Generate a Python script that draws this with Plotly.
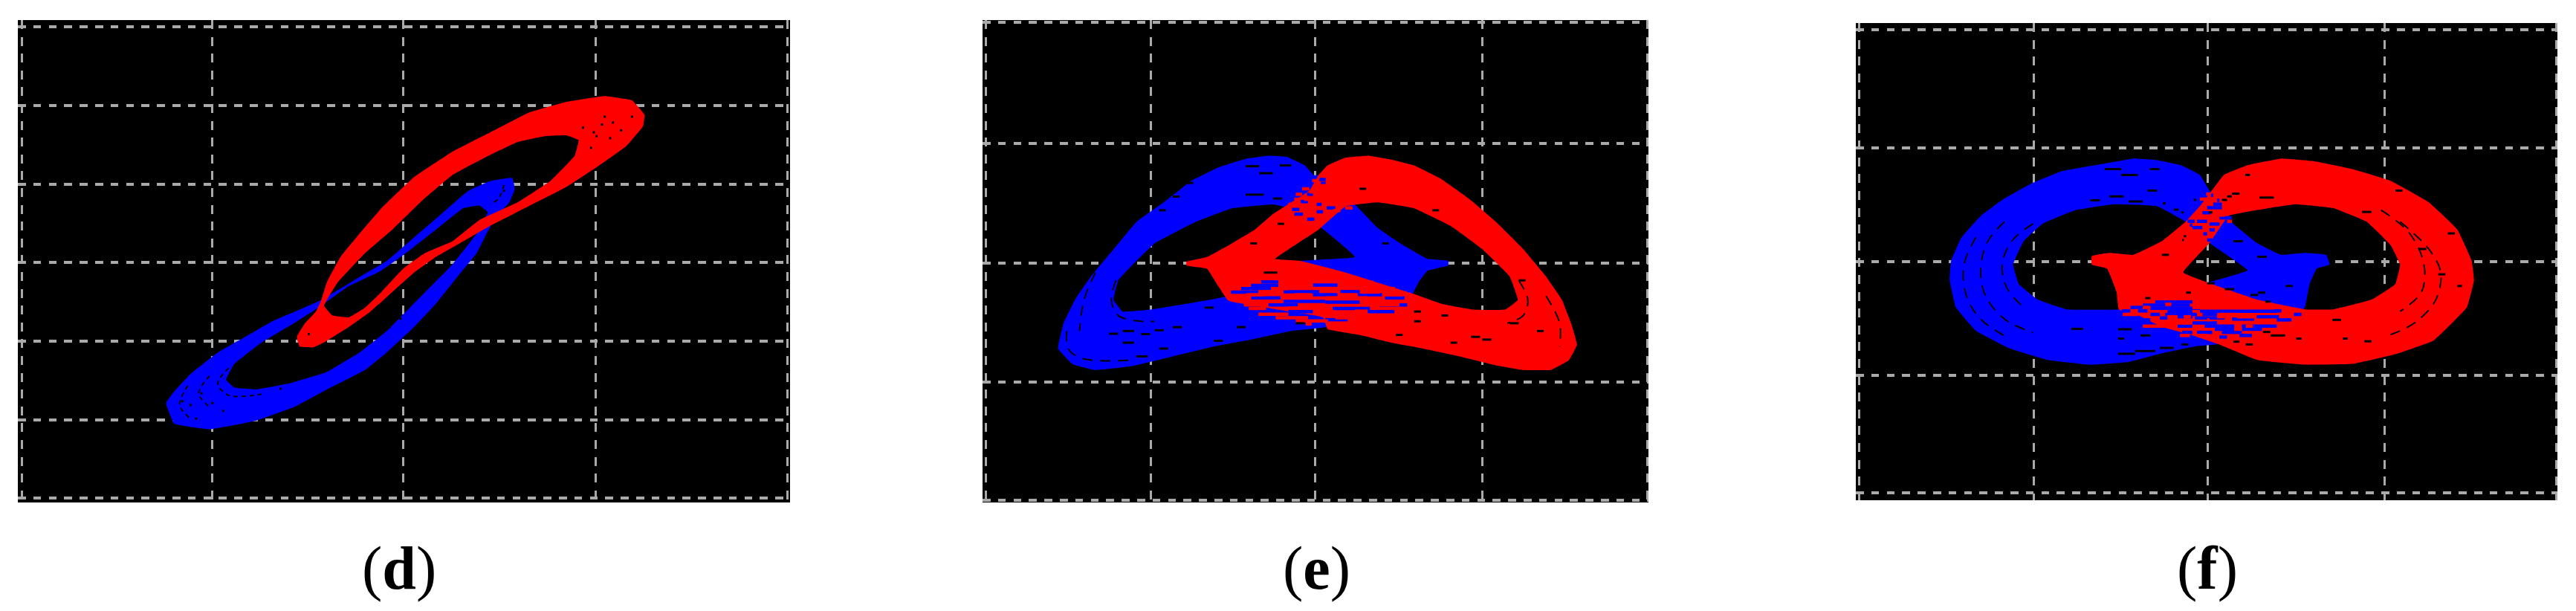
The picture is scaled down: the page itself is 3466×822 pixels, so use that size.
import plotly.graph_objects as go

W, H = 3466, 822
# Scope units: no numeric scale is printed in the reference, so each panel uses its own arbitrary scope units.
D_XRANGE = [33, 1450]; D_YRANGE = [1290, 52]
E_XRANGE = [52, 1515]; E_YRANGE = [1290, 52]
F_XRANGE = [58, 1530]; F_YRANGE = [1285, 60]
D_XGRID = [40, 390, 740, 1094, 1445]; D_YGRID = [70, 271, 473, 674, 876, 1078, 1279]
E_XGRID = [60, 422, 783, 1150, 1512]; E_YGRID = [57, 369, 675, 981, 1285]
F_XGRID = [65, 431, 796, 1167, 1527]; F_YGRID = [78, 380, 672, 964, 1265]
LABELS = ["(<b>d</b>)", "(<b>e</b>)", "(<b>f</b>)"]

D_BLUE_OUT = [(305,1035),(320,1005),(350,960),(400,905),(450,865),(500,825),(550,795),(590,770),(650,720),(710,670),(760,610),(810,550),(860,490),(900,465),(940,457),(945,485),(935,520),(915,550),(897,590),(875,650),(840,710),(800,780),(760,840),(710,905),(670,950),(600,1000),(540,1045),(470,1080),(385,1102),(320,1088)]
D_BLUE_IN = [(590,785),(540,830),(480,880),(430,935),(415,975),(430,995),(470,1000),(530,985),(600,955),(660,905),(710,850),(770,765),(830,680),(875,600),(895,545),(880,528),(850,535),(800,590),(750,645),(700,695),(640,735)]
D_RED_OUT = [(545,865),(560,830),(580,800),(590,770),(600,725),(625,660),(660,600),(700,535),(760,455),(830,390),(900,340),(970,290),(1040,262),(1110,247),(1160,258),(1183,295),(1180,325),(1150,375),(1100,425),(1040,480),(970,530),(900,580),(850,620),(800,660),(760,700),(720,750),(680,800),(640,840),(600,875),(575,892),(550,890)]
D_RED_IN = [(595,785),(610,810),(640,815),(670,790),(700,750),(740,690),(780,650),(830,620),(880,565),(950,520),(1010,465),(1055,400),(1062,360),(1040,348),(1000,350),(950,365),(890,405),(830,450),(775,515),(720,590),(670,650),(620,725)]
D_ARCS = [[(420,945),(400,985),(420,1015),(480,1012)], [(385,965),(365,1010),(385,1045)], [(345,990),(330,1040),(350,1075)], [(925,475),(915,510),(900,525)]]
D_SPECKS = [(1110,300),(1125,315),(1105,320),(1070,328),(1090,340),(1120,355),(1140,335),(1160,300),(1085,380),(1095,350),(567,858),(735,818),(715,840),(350,1040),(335,1030),(370,1010),(410,1055),(390,1035),(515,998),(360,1075),(925,490)]

E_BLUE_OUT = [(780,450),(760,425),(720,403),(680,400),(630,408),(570,430),(510,465),(450,520),(390,570),(340,640),(290,710),(255,770),(230,830),(218,895),(250,935),(300,950),(380,940),(470,915),(560,890),(650,870),(730,850),(810,840),(900,825),(950,800),(990,770),(1010,725),(1030,695),(1075,682),(1075,670),(1030,665),(970,625),(920,585),(870,525),(830,480),(800,450)]
E_BLUE_IN = [(430,625),(520,570),(600,535),(690,525),(730,535),(780,570),(870,660),(750,670),(620,720),(590,760),(500,780),(420,795),(360,800),(340,770),(350,720),(390,670)]
E_RED_OUT = [(790,450),(810,425),(850,405),(900,400),(950,410),(1000,425),(1060,460),(1120,510),(1180,570),(1240,640),(1290,710),(1325,770),(1345,830),(1358,885),(1340,925),(1300,950),(1240,950),(1180,938),(1100,915),(1020,895),(950,880),(880,860),(810,845),(800,815),(700,795),(600,775),(590,770),(570,735),(545,690),(500,682),(500,672),(545,660),(600,625),(650,590),(690,550),(730,520),(770,490)]
E_RED_IN = [(850,530),(920,520),(1000,535),(1080,580),(1150,640),(1210,710),(1228,770),(1200,795),(1130,795),(1060,780),(1000,755),(850,700),(750,670),(695,665),(790,590)]
E_BLUE_STRIPES = [(664,702,724),(642,702,733),(778,832,732),(620,686,741),(598,658,750),(713,792,749),(838,881,749),(778,832,757),(642,707,765),(876,930,757),(936,979,765),(707,805,774),(805,881,776),(925,985,783),(680,745,783),(821,903,792),(898,957,800),(724,778,800),(805,854,821),
                  (792,806,461),(795,806,471),(732,748,538),(765,781,563),(786,800,544),(737,756,550),(751,767,518),(765,778,499),(786,797,525),(808,827,534)]
E_RED_STRIPES = [(748,843,708),(775,843,716),(702,767,724),(713,778,732),(849,911,725),(832,881,733),(686,724,741),(658,713,749),(792,838,746),(881,958,741),(881,925,750),(631,669,757),(737,775,757),(707,740,765),(832,876,757),(604,642,765),(805,849,765),(865,898,765),(930,974,757),(963,990,774),(642,713,774),(881,925,774),(903,968,782),(626,680,783),(745,789,783),(637,675,792),(724,767,791),(778,822,799),(870,898,799),(658,724,807),(821,854,807),(696,767,816),(827,881,816),(740,811,824),(762,775,832),
                 (776,789,464),(754,770,485),(792,806,477),(740,754,499),(770,781,493),(737,751,512),(724,746,525),(759,773,512),(781,795,509),(803,822,522),(784,806,534),(822,838,509),(822,838,541),(849,865,534),(765,784,544)]
E_ARCS = [[(345,720),(335,770),(350,810),(400,825),(430,825)], [(237,850),(240,895),(270,920),(380,925)], [(300,700),(275,770),(265,850)], [(1230,720),(1250,770),(1240,810),(1205,830)], [(1290,760),(1320,830),(1320,890)]]
E_SPECKS = [(630,660,427),(660,690,445),(630,670,500),(690,710,510),(705,730,425),(470,485,505),(440,455,540),(500,515,470),(360,385,850),(330,350,857),(400,420,858),(430,450,848),(470,490,840),(360,385,880),(390,415,915),(440,460,895),(540,560,790),(560,580,875),(610,630,840),(740,760,830),(960,975,860),(1000,1015,800),(1060,1075,810),(1125,1145,865),(1150,1170,872),(1210,1230,830),(1270,1285,850),(1080,1095,880),(1000,1015,825),(1040,1055,540),(1230,1245,720),(670,700,700),(640,655,625),(700,715,575),(880,895,485),(930,945,625)]

F_BLUE_OUT = [(800,490),(780,450),(740,425),(690,412),(640,408),(560,425),(490,440),(430,470),(370,510),(320,555),(280,610),(258,670),(255,720),(268,790),(310,850),(380,895),(460,925),(550,937),(630,930),(710,905),(770,890),(815,885),(900,860),(960,840),(1000,790),(1010,730),(1025,690),(1052,680),(1045,655),(1000,650),(950,655),(900,625),(850,575),(820,530)]
F_BLUE_IN = [(600,525),(690,530),(750,570),(800,625),(880,695),(800,725),(700,760),(610,795),(500,795),(440,770),(400,730),(388,680),(410,620),(450,575),(520,540)]
F_RED_OUT = [(805,490),(830,450),(880,425),(950,408),(1020,415),(1100,435),(1180,465),(1260,520),(1320,590),(1350,670),(1355,720),(1340,790),(1270,875),(1190,910),(1100,935),(1000,937),(900,925),(820,885),(760,860),(700,840),(650,810),(610,795),(605,750),(585,690),(553,680),(553,658),(590,650),(640,655),(700,620),(750,570),(780,530)]
F_RED_IN = [(840,555),(900,540),(980,525),(1060,535),(1130,570),(1180,630),(1200,680),(1190,730),(1140,770),(1060,795),(1000,795),(900,770),(840,745),(745,700),(800,625)]
F_BLUE_STRIPES = [(686,764,776),(660,759,784),(634,676,790),(676,780,792),(712,764,800),(780,858,800),(616,634,799),(650,670,799),(676,696,808),(707,774,808),(785,816,808),(858,941,800),(899,946,814),(936,951,799),(977,993,808),(639,650,814),(696,712,817),(733,764,814),(769,832,817),(660,676,822),(847,894,820),(941,972,822),(764,816,830),(868,941,838),(790,852,838),(733,764,838),(811,852,846),(868,910,846),(743,764,854),(774,806,854),(826,868,854),(863,889,862),(821,837,866),
                  (795,826,534),(785,803,547),(774,795,569),(764,785,585),(800,821,576),(808,826,525),(821,847,560),(803,808,502),(816,821,515),(800,811,591),(787,795,601),(795,806,617),(754,769,569),(759,764,579)]
F_RED_STRIPES = [(707,720,782),(660,676,790),(764,790,790),(618,650,808),(774,785,808),(821,858,808),(712,733,814),(746,761,814),(816,832,814),(858,894,814),(712,764,830),(795,800,822),(660,733,838),(876,891,838),(852,868,846),(738,759,862),(774,795,862),
                 (780,793,512),(793,803,499),(821,832,553),(837,847,569)]
F_ARCS = [[(370,570),(335,620),(320,690),(330,760),(370,820),(430,855)], [(430,575),(385,620),(365,680),(375,740),(410,790)], [(310,610),(285,680),(290,760),(320,820),(380,870)], [(1200,570),(1260,640),(1285,700),(1275,770),(1230,830),(1180,860)], [(1160,540),(1220,600),(1250,680),(1245,750),(1200,800)]]
F_SPECKS = [(580,615,435),(615,650,450),(675,695,435),(670,690,490),(590,620,505),(550,570,515),(630,660,518),(905,935,508),(875,885,450),(510,535,845),(1125,1140,877),(1080,1090,870),(700,715,655),(850,870,620),(900,920,660),(960,975,735),(1190,1205,490),(1120,1140,545),(1240,1255,640),(1300,1315,600),(1320,1330,735),(1280,1295,705),
            (608,637,846),(655,676,862),(608,621,870),(644,686,902),(696,725,894),(741,756,885),(608,644,909),(928,959,862),(912,928,853),(982,993,870),(1058,1076,822),(850,863,878),(876,891,885),(665,676,766),(751,761,752),(886,902,758),(902,917,752),(917,928,775),(795,811,728),(832,852,743),
            (702,708,523),(725,735,539),(741,746,546),(767,772,514),(847,863,498),(826,837,514),(837,847,505),(798,806,546),(743,746,617),(746,751,607)]
LABEL_X = [537, 1771, 2970]


def poly(outer, inner=None):
    def area(p):
        return sum(a[0]*b[1]-b[0]*a[1] for a, b in zip(p, p[1:]+p[:1]))
    pts = list(outer)+[outer[0]]
    xs = [p[0] for p in pts]; ys = [p[1] for p in pts]
    if inner:
        i = list(inner)
        if area(i)*area(list(outer)) > 0:
            i = i[::-1]
        i = i+[i[0]]
        xs += [None]+[p[0] for p in i]; ys += [None]+[p[1] for p in i]
    return xs, ys


def stripes(items):
    xs, ys = [], []
    for a, b, y in items:
        xs += [a, b, None]; ys += [y, y, None]
    return xs, ys


fig = go.Figure()


def add_fill(o, i, color, n):
    x, y = poly(o, i)
    fig.add_trace(go.Scatter(x=x, y=y, mode="lines", fill="toself", fillcolor=color,
                             line=dict(width=0, color=color, shape="spline", smoothing=0.25),
                             xaxis=f"x{n}", yaxis=f"y{n}", showlegend=False, hoverinfo="skip"))


def add_lines(x, y, color, w, n, dash="solid", shape="linear"):
    fig.add_trace(go.Scatter(x=x, y=y, mode="lines", line=dict(width=w, color=color, dash=dash, shape=shape),
                             xaxis=f"x{n}", yaxis=f"y{n}", showlegend=False, hoverinfo="skip"))


BLUE, RED = "#0000ff", "#ff0000"
# panel d
add_fill(D_BLUE_OUT, D_BLUE_IN, BLUE, 1)
add_fill(D_RED_OUT, D_RED_IN, RED, 1)
for a in D_ARCS:
    add_lines([p[0] for p in a], [p[1] for p in a], "black", 2, 1, "6px,5px", "spline")
fig.add_trace(go.Scatter(x=[p[0] for p in D_SPECKS], y=[p[1] for p in D_SPECKS], mode="markers",
                         marker=dict(symbol="square", size=3, color="black"), xaxis="x1", yaxis="y1", showlegend=False, hoverinfo="skip"))
# panel e
add_fill(E_BLUE_OUT, E_BLUE_IN, BLUE, 2)
add_fill(E_RED_OUT, E_RED_IN, RED, 2)
add_lines(*stripes(E_BLUE_STRIPES), BLUE, 4.5, 2)
add_lines(*stripes(E_RED_STRIPES), RED, 4.5, 2)
for a in E_ARCS:
    add_lines([p[0] for p in a], [p[1] for p in a], "black", 2, 2, "14px,10px", "spline")
add_lines(*stripes(E_SPECKS), "black", 3, 2)
# panel f
add_fill(F_BLUE_OUT, F_BLUE_IN, BLUE, 3)
add_fill(F_RED_OUT, F_RED_IN, RED, 3)
add_lines(*stripes(F_BLUE_STRIPES), BLUE, 4.5, 3)
add_lines(*stripes(F_RED_STRIPES), RED, 4.5, 3)
for a in F_ARCS:
    add_lines([p[0] for p in a], [p[1] for p in a], "black", 2, 3, "14px,10px", "spline")
add_lines(*stripes(F_SPECKS), "black", 3, 3)

PANELS = [(1, D_XRANGE, D_YRANGE, D_XGRID, D_YGRID, (24, 1063), (27, 676)),
          (2, E_XRANGE, E_YRANGE, E_XGRID, E_YGRID, (1322, 2218), (27, 676)),
          (3, F_XRANGE, F_YRANGE, F_XGRID, F_YGRID, (2497, 3441), (31, 673))]
layout = {}
annos = []
for (n, xr, yr, xg, yg, (l, r), (t, b)), lab, lx in zip(PANELS, LABELS, LABEL_X):
    s = "" if n == 1 else str(n)
    common = dict(showticklabels=False, ticks="", showline=False, zeroline=False, showgrid=True, gridcolor="#aaaaaa")
    layout[f"xaxis{s}"] = dict(range=xr, domain=[l/W, r/W], tickmode="array", tickvals=xg, anchor=f"y{s}",
                               griddash="12px,10.6px", gridwidth=3.3, **common)
    layout[f"yaxis{s}"] = dict(range=yr, domain=[1-b/H, 1-t/H], tickmode="array", tickvals=yg, anchor=f"x{s}",
                               griddash="10.6px,10.2px", gridwidth=4, **common)
    annos.append(dict(text=lab, x=lx/W, y=1-764/H, xref="paper", yref="paper", showarrow=False,
                      xanchor="center", yanchor="middle", font=dict(family="Liberation Serif", size=82, color="black")))
fig.update_layout(**layout, annotations=annos, width=W, height=H, margin=dict(l=0, r=0, t=0, b=0),
                  plot_bgcolor="black", paper_bgcolor="white", showlegend=False)
fig.write_html("out.html", config={"displayModeBar": False},
               post_script="document.body.style.margin='0';document.body.style.overflow='hidden';")
